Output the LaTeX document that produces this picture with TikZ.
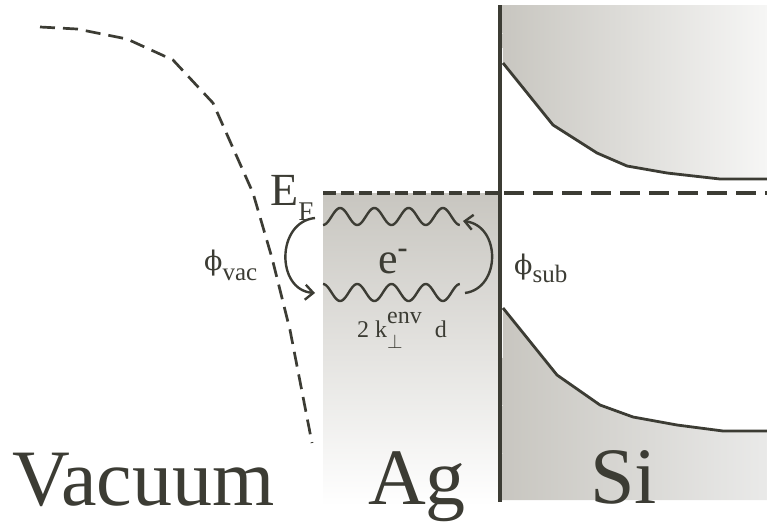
\RequirePackage{fix-cm}
\documentclass[tikz,border=0pt]{standalone}
\usepackage{fontspec}
\setmainfont{Liberation Serif}
\newfontfamily\grkfont{DejaVu Serif}
\usepackage{tikz}
\usetikzlibrary{arrows.meta}
\definecolor{bandgray}{RGB}{200,198,192}
\definecolor{bandlight}{RGB}{246,246,245}
\definecolor{inkgray}{RGB}{60,60,52}

\begin{document}
\begin{tikzpicture}[x=1pt, y=-1pt, >={Straight Barb[length=8pt,width=15pt]},
  lbl/.style={inner sep=0pt, anchor=base west, text=inkgray},
  big/.style={lbl, font=\fontsize{80}{80}\selectfont},
  wave/.style={inkgray, line width=2.4pt},
  band/.style={inkgray, line width=2.8pt, line join=round},
  hop/.style={->, inkgray, line width=2.4pt}]
  \useasboundingbox (0,0) rectangle (767,525);
  \shade[top color=bandgray, bottom color=white] (323,193) rectangle (500,506);
  \shade[left color=bandgray, right color=bandlight] (502,5) -- (767,5) -- (767,179)
    -- (720,179) -- (667,173) -- (627,166) -- (597,153) -- (553,125) -- (503,63) -- cycle;
  \shade[left color=bandgray, right color=bandlight!95!black] (503,308) -- (557,375) -- (600,405)
    -- (633,417) -- (677,425) -- (723,431) -- (767,431) -- (767,500) -- (502,500) -- cycle;
  \draw[band] (503,63) -- (553,125) -- (597,153) -- (627,166) -- (667,173) -- (720,179) -- (767,179);
  \draw[band] (503,308) -- (557,375) -- (600,405) -- (633,417) -- (677,425) -- (723,431) -- (767,431);
  \draw[inkgray, line width=2.7pt, dash pattern=on 15pt off 8pt, line join=round]
    (40,27) -- (77,29) -- (127,39) -- (173,60) -- (213,103) -- (253,193) -- (272,258) -- (290,330) -- (312,443);
  \draw[inkgray, line width=4pt, dash pattern=on 13pt off 5pt] (323,193) -- (500,193);
  \draw[inkgray, line width=4pt, dash pattern=on 20pt off 9pt] (504,193) -- (767,193);
  \draw[inkgray, line width=4pt] (500,5) -- (500,502);

  \draw[wave] plot[domain=0:1, samples=120] ({323+137*\x}, {216.5+8.5*cos(4*360*\x)});
  \draw[wave] plot[domain=0:1, samples=120] ({323+137*\x}, {292.5-8.5*cos(4*360*\x)});

  \coordinate (vacA) at (315,218);
  \coordinate (vacB) at (315,293);
  \coordinate (subA) at (465,293);
  \coordinate (subB) at (463,221);
  \draw[hop] (vacA) .. controls (276,222) and (276,290) .. (vacB);
  \draw[hop] (subA) .. controls (501,288) and (501,226) .. (subB);

  \node[lbl, font=\fontsize{46}{46}\selectfont] (EF) at (270,205)
    {E\raisebox{-15pt}{\fontsize{27}{27}\selectfont F}};
  \node[lbl, font=\fontsize{27}{27}\selectfont] (phivac) at (204,270)
    {{\grkfont ϕ}\raisebox{-10pt}{\fontsize{25}{25}\selectfont vac}};
  \node[lbl, font=\fontsize{27}{27}\selectfont] (phisub) at (514,274)
    {{\grkfont ϕ}\raisebox{-8pt}{\fontsize{25}{25}\selectfont sub}};
  \node[lbl, font=\fontsize{44}{44}\selectfont] (el) at (378,273)
    {e\raisebox{16pt}{\fontsize{30}{30}\selectfont\bfseries -}};
  \node[lbl, font=\fontsize{24}{24}\selectfont] (kd) at (357,337)
    {2 k\rlap{\raisebox{14pt}{env}}\raisebox{-11pt}{\fontsize{20}{20}\selectfont$\perp$}\hspace{26pt} d};

  \node[big] (vac) at (12,505) {Vacuum};
  \node[big] (ag) at (368,504) {Ag};
  \node[big] (si) at (590,503) {Si};
\end{tikzpicture}
\end{document}
